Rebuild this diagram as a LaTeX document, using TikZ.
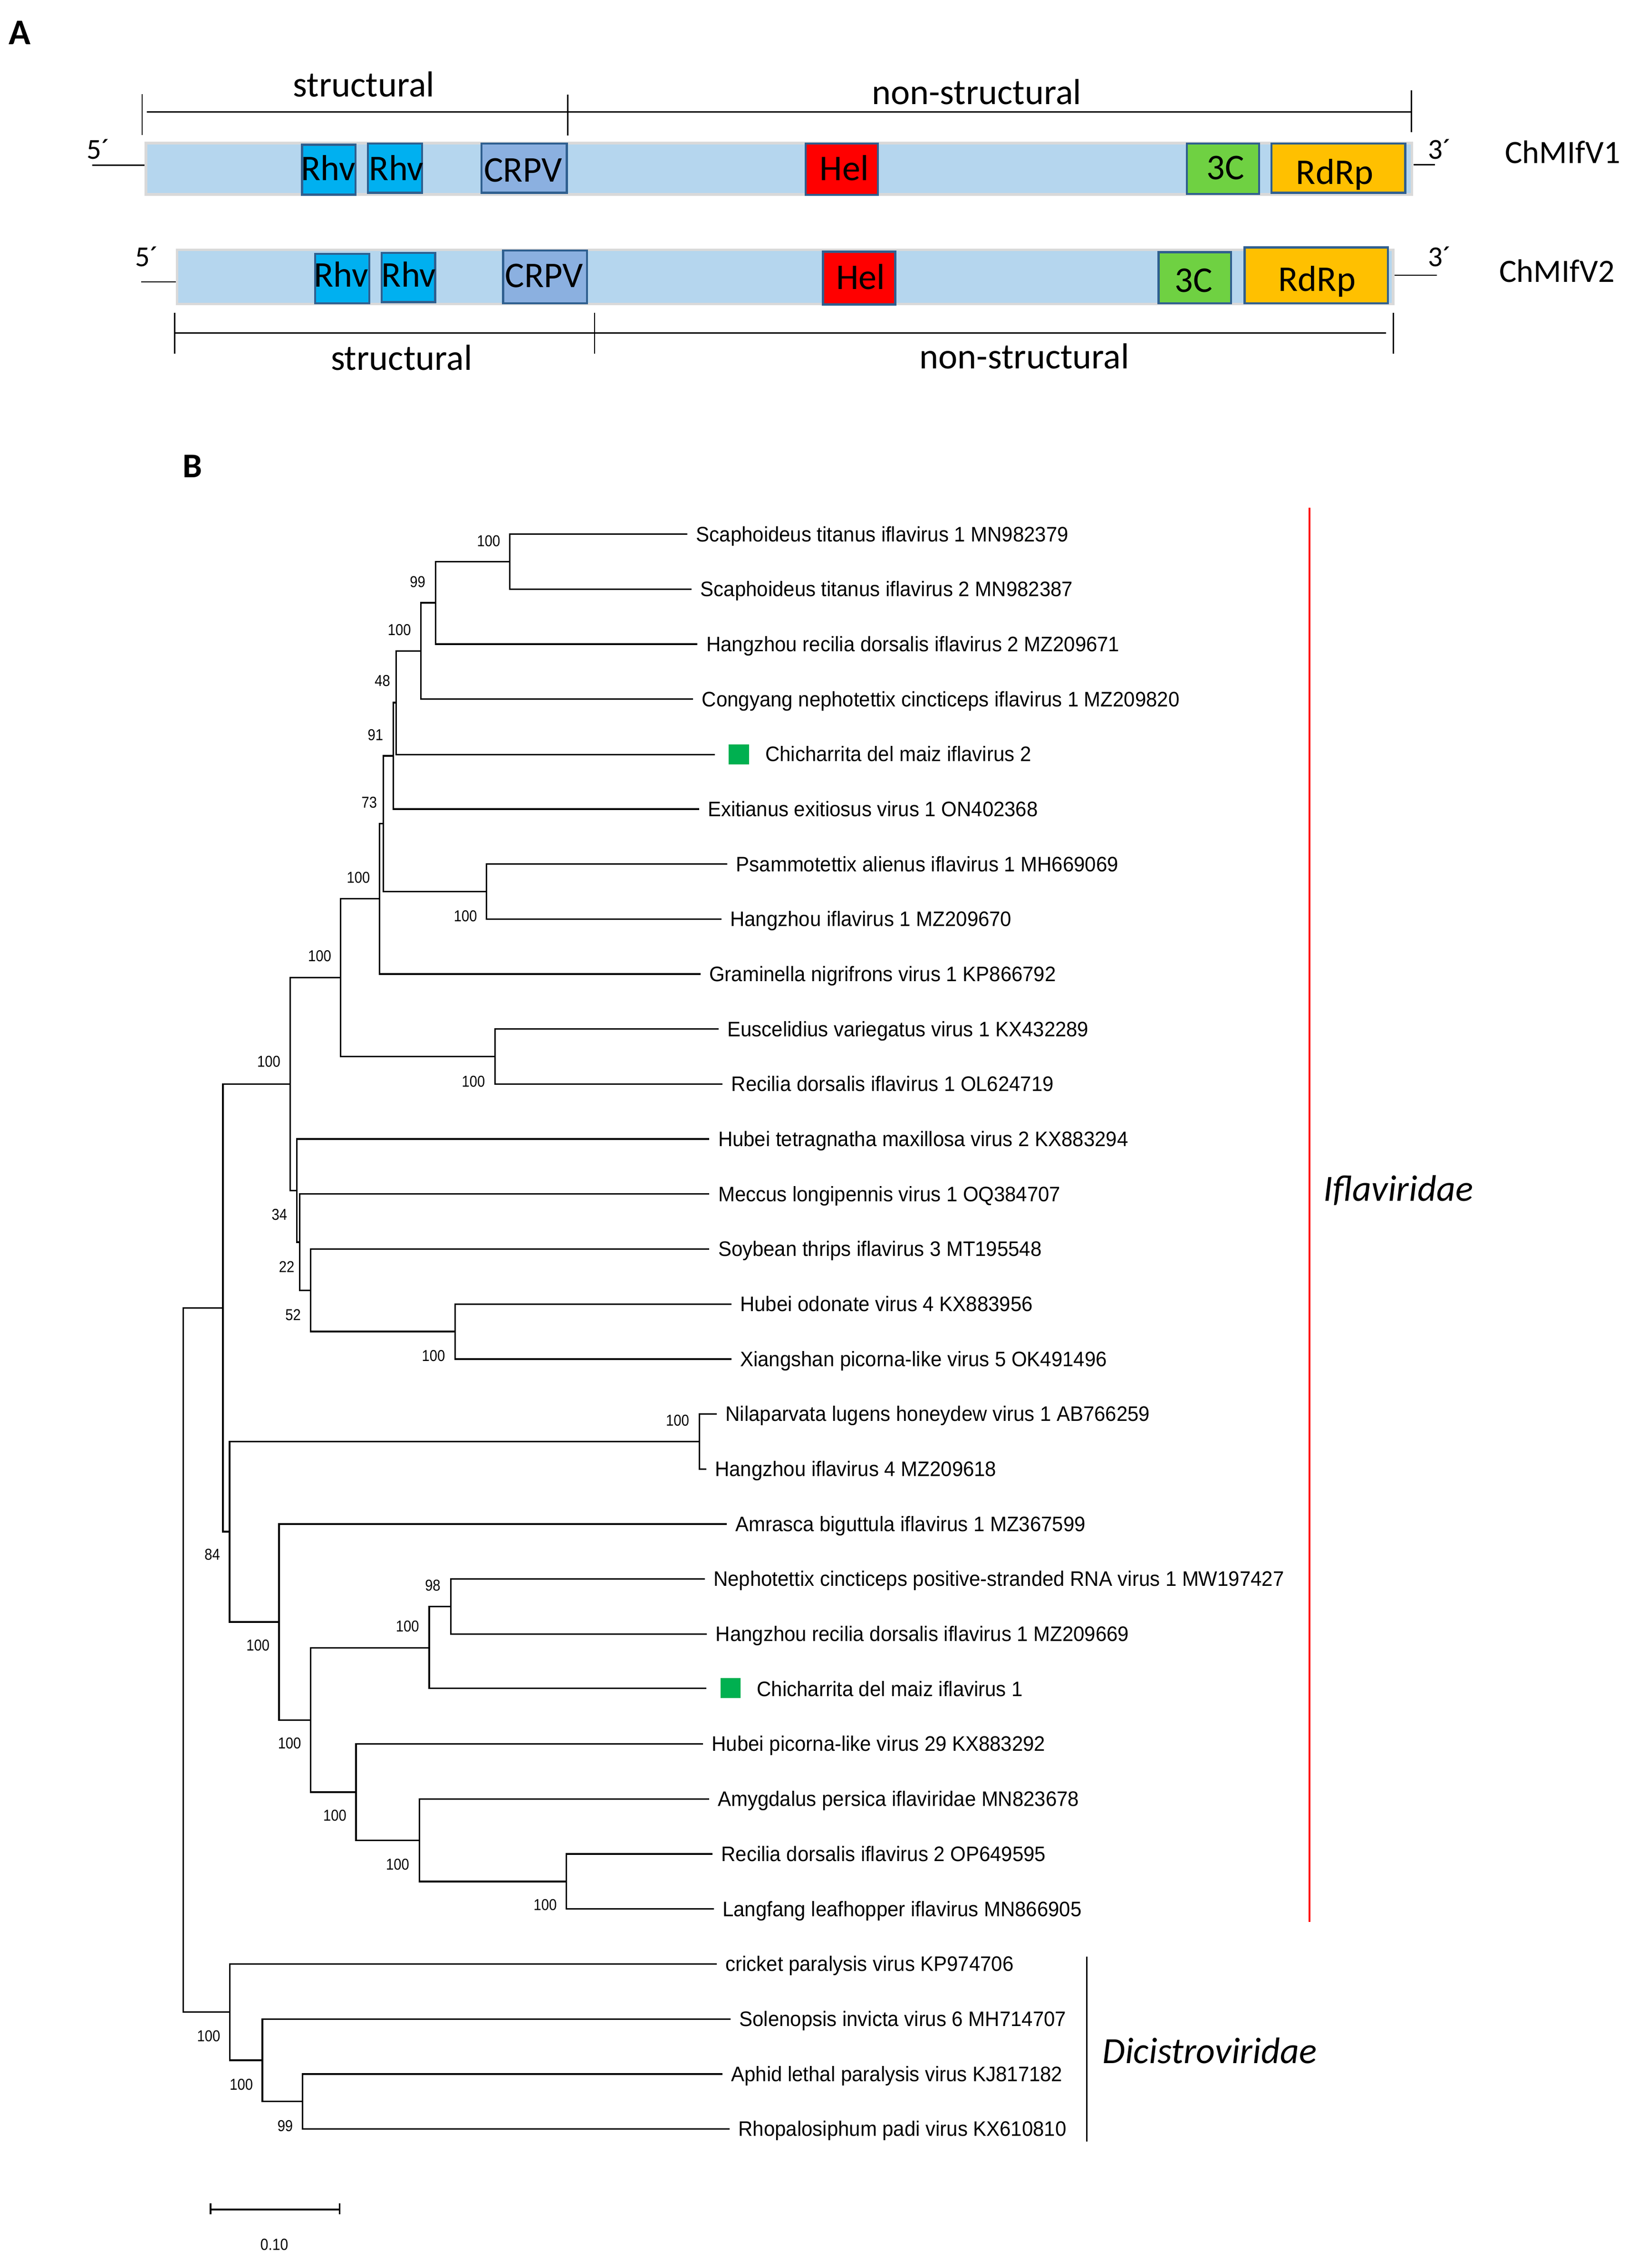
\documentclass[tikz,border=0pt]{standalone}
\usepackage{fontspec}
\setmainfont{Carlito}
\newfontfamily\tipfont[FakeStretch=0.95,Ligatures=NoCommon]{Liberation Sans}
\newfontfamily\bsfont[FakeStretch=0.88]{Liberation Sans}
\definecolor{barblue}{HTML}{B5D6EE}
\definecolor{bargray}{HTML}{D9D9D9}
\definecolor{domline}{HTML}{2F5F8F}
\definecolor{rhvc}{HTML}{00B0F0}
\definecolor{crpvc}{HTML}{8BB0E0}
\definecolor{helc}{HTML}{FF0000}
\definecolor{cthree}{HTML}{6FD142}
\definecolor{rdrpc}{HTML}{FFC000}
\definecolor{gsq}{HTML}{00B050}
\begin{document}
\begin{tikzpicture}[x=1pt,y=-1pt,
  barbox/.style={draw=bargray, fill=barblue, line width=1.8pt, inner sep=0pt, anchor=north west},
  dom/.style={draw=domline, line width=1.5pt, inner sep=0pt, anchor=north west},
  boxt/.style={inner sep=0pt, anchor=base, font=\fontsize{25}{30}\selectfont},
  primet/.style={inner sep=0pt, anchor=base, font=\fontsize{20}{24}\selectfont},
  thin/.style={line width=0.9pt},
  br/.style={line width=1.1pt},
  tiplab/.style={anchor=west, inner xsep=6pt, inner ysep=0pt, text height=10.4pt, text depth=0pt, font=\tipfont\fontsize{14.5}{16}\selectfont},
  bs/.style={inner sep=0pt, text height=7.7pt, text depth=0pt, anchor=center, font=\bsfont\fontsize{10.9}{12}\selectfont},
  sqr/.style={fill=gsq, inner sep=0pt, minimum size=14pt, anchor=west}
]
\fill[white] (0,0) rectangle (1139,1588);
\useasboundingbox (0,0) rectangle (1139,1588);
\begin{scope}[scale=1.0132, transform shape]
% ---------------- Panel A ----------------
\node[inner sep=0pt, anchor=base, font=\bfseries\fontsize{25}{30}\selectfont] (labA) at (13.6,30.6) {A};

% top bracket
\draw[thin] (101.6,77.3) -- (975.5,77.3);
\draw[thin] (98.2,65) -- (98.2,93.4);
\draw[thin] (392.5,65.4) -- (392.5,93.7);
\draw[thin] (975.5,62.5) -- (975.5,91.2);
\node[boxt] (st1) at (251.5,67) {structural};
\node[boxt] (ns1) at (675,72.2) {non-structural};

% genome 1
\node[barbox, minimum width=875pt, minimum height=35.5pt] (bar1) at (100,98) {};
\node[dom, fill=rhvc, minimum width=37pt, minimum height=34.5pt] (b1a) at (208,99.3) {};
\node[dom, fill=rhvc, minimum width=37.5pt, minimum height=34pt] (b1b) at (253.5,98.5) {};
\node[dom, fill=crpvc, minimum width=59pt, minimum height=34pt] (b1c) at (332,98.5) {};
\node[dom, fill=helc, minimum width=50pt, minimum height=35.5pt] (b1d) at (556,98.5) {};
\node[dom, fill=cthree, minimum width=50pt, minimum height=34.8pt] (b1e) at (819.5,98.5) {};
\node[dom, fill=rdrpc, minimum width=92.5pt, minimum height=34pt] (b1f) at (878,98.5) {};
\node[boxt] (x1a) at (226.8,124.8) {Rhv};
\node[boxt] (x1b) at (274,124.8) {Rhv};
\node[boxt] (x1c) at (361.5,125.7) {CRPV};
\node[boxt] (x1d) at (583.5,124.8) {Hel};
\node[boxt] (x1e) at (847,124) {3C};
\node[boxt] (x1f) at (922.5,127.4) {RdRp};
\coordinate (e5a) at (63.7,114.1);
\draw[thin] (e5a) -- (e5a -| bar1.west);
\coordinate (e3a) at (991.6,113.8);
\draw[thin] (e3a -| bar1.east) -- (e3a);
\node[primet] (p5a) at (68,110) {5´};
\node[primet] (p3a) at (995,110) {3´};
\node[inner sep=0pt, anchor=base, font=\fontsize{22.5}{27}\selectfont] (v1) at (1080,113) {ChMIfV1};

% genome 2
\node[barbox, minimum width=840.5pt, minimum height=37.4pt] (bar2) at (121.5,171.8) {};
\node[dom, fill=rhvc, minimum width=37.5pt, minimum height=34.3pt] (b2a) at (217,174.6) {};
\node[dom, fill=rhvc, minimum width=37pt, minimum height=34pt] (b2b) at (263,174) {};
\node[dom, fill=crpvc, minimum width=58pt, minimum height=36.5pt] (b2c) at (347,172.4) {};
\node[dom, fill=helc, minimum width=50pt, minimum height=36.5pt] (b2d) at (568,173.2) {};
\node[dom, fill=cthree, minimum width=50pt, minimum height=35.4pt] (b2e) at (800,173.5) {};
\node[dom, fill=rdrpc, minimum width=99pt, minimum height=38.6pt] (b2f) at (859.5,170.3) {};
\node[boxt] (x2a) at (235.7,198.3) {Rhv};
\node[boxt] (x2b) at (282.5,198.3) {Rhv};
\node[boxt] (x2c) at (376,198.7) {CRPV};
\node[boxt] (x2d) at (594.9,200) {Hel};
\node[boxt] (x2e) at (825,201.7) {3C};
\node[boxt] (x2f) at (910.2,201.2) {RdRp};
\coordinate (e5b) at (97.4,194.8);
\draw[thin] (e5b) -- (e5b -| bar2.west);
\coordinate (e3b) at (993,190.2);
\draw[thin] (e3b -| bar2.east) -- (e3b);
\node[primet] (p5b) at (101.5,184.2) {5´};
\node[primet] (p3b) at (995,184) {3´};
\node[inner sep=0pt, anchor=base, font=\fontsize{22.5}{27}\selectfont] (v2) at (1076,195) {ChMIfV2};

% bottom bracket
\draw[thin] (120.7,230) -- (958,230);
\draw[thin] (120.7,216) -- (120.7,244.5);
\draw[thin] (411,216) -- (411,244.5);
\draw[thin] (963,216) -- (963,244.5);
\node[boxt] (st2) at (277.5,255.6) {structural};
\node[boxt] (ns2) at (708,254.7) {non-structural};

% ---------------- Panel B ----------------
\node[inner sep=0pt, anchor=base, font=\bfseries\fontsize{24}{29}\selectfont] (labB) at (133,330) {B};

% tips
\node[tiplab] (t0) at (475,369) {Scaphoideus titanus iflavirus 1 MN982379};
\node[tiplab] (t1) at (478,407) {Scaphoideus titanus iflavirus 2 MN982387};
\node[tiplab] (t2) at (482,445) {Hangzhou recilia dorsalis iflavirus 2 MZ209671};
\node[tiplab] (t3) at (479,483) {Congyang nephotettix cincticeps iflavirus 1 MZ209820};
\node[sqr] (sq4) at (503.5,521.3) {};
\node[tiplab, inner xsep=0pt] (t4) at (528.8,521) {Chicharrita del maiz iflavirus 2};
\node[tiplab] (t5) at (483,559) {Exitianus exitiosus virus 1 ON402368};
\node[tiplab] (t6) at (502.6,597) {Psammotettix alienus iflavirus 1 MH669069};
\node[tiplab] (t7) at (498.5,635) {Hangzhou iflavirus 1 MZ209670};
\node[tiplab] (t8) at (484,673) {Graminella nigrifrons virus 1 KP866792};
\node[tiplab] (t9) at (496.6,711) {Euscelidius variegatus virus 1 KX432289};
\node[tiplab] (t10) at (499.3,749) {Recilia dorsalis iflavirus 1 OL624719};
\node[tiplab] (t11) at (490.2,787) {Hubei tetragnatha maxillosa virus 2 KX883294};
\node[tiplab] (t12) at (490.2,825) {Meccus longipennis virus 1 OQ384707};
\node[tiplab] (t13) at (490.2,863) {Soybean thrips iflavirus 3 MT195548};
\node[tiplab] (t14) at (505.4,901) {Hubei odonate virus 4 KX883956};
\node[tiplab] (t15) at (505.4,939) {Xiangshan picorna-like virus 5 OK491496};
\node[tiplab] (t16) at (495.3,977) {Nilaparvata lugens honeydew virus 1 AB766259};
\node[tiplab] (t17) at (488,1015) {Hangzhou iflavirus 4 MZ209618};
\node[tiplab] (t18) at (502.1,1053) {Amrasca biguttula iflavirus 1 MZ367599};
\node[tiplab] (t19) at (487,1091) {Nephotettix cincticeps positive-stranded RNA virus 1 MW197427};
\node[tiplab] (t20) at (488.5,1129) {Hangzhou recilia dorsalis iflavirus 1 MZ209669};
\node[sqr] (sq21) at (497.7,1166.5) {};
\node[tiplab, inner xsep=0pt] (t21) at (523,1167) {Chicharrita del maiz iflavirus 1};
\node[tiplab] (t22) at (485.8,1205) {Hubei picorna-like virus 29 KX883292};
\node[tiplab] (t23) at (490,1243) {Amygdalus persica iflaviridae MN823678};
\node[tiplab] (t24) at (492.3,1281) {Recilia dorsalis iflavirus 2 OP649595};
\node[tiplab] (t25) at (493.2,1319) {Langfang leafhopper iflavirus MN866905};
\node[tiplab] (t26) at (495.3,1357) {cricket paralysis virus KP974706};
\node[tiplab] (t27) at (504.8,1395) {Solenopsis invicta virus 6 MH714707};
\node[tiplab] (t28) at (499.2,1433) {Aphid lethal paralysis virus KJ817182};
\node[tiplab] (t29) at (504.2,1471) {Rhopalosiphum padi virus KX610810};

% internal nodes
\coordinate (nA) at (352.2,388);
\coordinate (nB) at (301.1,416.5);
\coordinate (nC) at (290.8,449.75);
\coordinate (nD) at (273.8,485.4);
\coordinate (nE) at (271.8,522.2);
\coordinate (nPs) at (336.2,616);
\coordinate (nF) at (264.8,569.1);
\coordinate (nG) at (262.3,621);
\coordinate (nEu) at (342,730);
\coordinate (nH) at (235.4,675.5);
\coordinate (nN) at (314.6,920);
\coordinate (nM) at (214.6,891.5);
\coordinate (nL) at (207.1,858.25);
\coordinate (nK) at (205.1,822.6);
\coordinate (nI) at (200.5,749.1);
\coordinate (nJ) at (154,903.7);
\coordinate (nNi) at (483.4,996);
\coordinate (nT) at (311.6,1110);
\coordinate (nR) at (296.6,1138.5);
\coordinate (nV) at (391.4,1300);
\coordinate (nU) at (289.8,1271.5);
\coordinate (nS) at (246,1238.25);
\coordinate (nQ) at (214.6,1188.4);
\coordinate (nP) at (192.8,1120.7);
\coordinate (nO) at (158.6,1058.3);
\coordinate (nY) at (209.1,1452);
\coordinate (nX) at (181.3,1423.5);
\coordinate (nW) at (158.7,1390.25);
\coordinate (nRoot) at (126.7,1147);

% branches
\draw[br] (nA) |- (t0.west);
\draw[br] (nA) |- (t1.west);
\draw[br] (nB) |- (nA);
\draw[br] (nB) |- (t2.west);
\draw[br] (nC) |- (nB);
\draw[br] (nC) |- (t3.west);
\draw[br] (nD) |- (nC);
\draw[br, shorten >=9.5pt] (nD) |- (sq4.west);
\draw[br] (nE) |- (nD);
\draw[br] (nE) |- (t5.west);
\draw[br] (nPs) |- (t6.west);
\draw[br] (nPs) |- (t7.west);
\draw[br] (nF) |- (nE);
\draw[br] (nF) |- (nPs);
\draw[br] (nG) |- (nF);
\draw[br] (nG) |- (t8.west);
\draw[br] (nEu) |- (t9.west);
\draw[br] (nEu) |- (t10.west);
\draw[br] (nH) |- (nG);
\draw[br] (nH) |- (nEu);
\draw[br] (nN) |- (t14.west);
\draw[br] (nN) |- (t15.west);
\draw[br] (nM) |- (t13.west);
\draw[br] (nM) |- (nN);
\draw[br] (nL) |- (t12.west);
\draw[br] (nL) |- (nM);
\draw[br] (nK) |- (t11.west);
\draw[br] (nK) |- (nL);
\draw[br] (nI) |- (nH);
\draw[br] (nI) |- (nK);
\draw[br] (nNi) |- (t16.west);
\draw[br] (nNi) |- (t17.west);
\draw[br] (nT) |- (t19.west);
\draw[br] (nT) |- (t20.west);
\draw[br] (nR) |- (nT);
\draw[br, shorten >=9.8pt] (nR) |- (sq21.west);
\draw[br] (nV) |- (t24.west);
\draw[br] (nV) |- (t25.west);
\draw[br] (nU) |- (t23.west);
\draw[br] (nU) |- (nV);
\draw[br] (nS) |- (t22.west);
\draw[br] (nS) |- (nU);
\draw[br] (nQ) |- (nR);
\draw[br] (nQ) |- (nS);
\draw[br] (nP) |- (t18.west);
\draw[br] (nP) |- (nQ);
\draw[br] (nO) |- (nNi);
\draw[br] (nO) |- (nP);
\draw[br] (nJ) |- (nI);
\draw[br] (nJ) |- (nO);
\draw[br] (nY) |- (t28.west);
\draw[br] (nY) |- (t29.west);
\draw[br] (nX) |- (t27.west);
\draw[br] (nX) |- (nY);
\draw[br] (nW) |- (t26.west);
\draw[br] (nW) |- (nX);
\draw[br] (nRoot) |- (nJ);
\draw[br] (nRoot) |- (nW);

% bootstrap values
\node[bs] (bA) at (337.7,373.6) {100};
\node[bs] (bB) at (288.6,402.1) {99};
\node[bs] (bC) at (276,435.3) {100};
\node[bs] (bD) at (264.3,470.3) {48};
\node[bs] (bE) at (259.5,507.8) {91};
\node[bs] (bF) at (255.2,554.3) {73};
\node[bs] (bG) at (247.7,606.3) {100};
\node[bs] (bPs) at (321.7,632.8) {100};
\node[bs] (bH) at (220.9,660.4) {100};
\node[bs] (bI) at (185.8,733.5) {100};
\node[bs] (bEu) at (327.2,747.3) {100};
\node[bs] (bK) at (193.1,839.1) {34};
\node[bs] (bL) at (198.1,875.4) {22};
\node[bs] (bM) at (202.6,908.5) {52};
\node[bs] (bN) at (299.6,936.7) {100};
\node[bs] (bNi) at (468.3,981.5) {100};
\node[bs] (bO) at (146.7,1074.1) {84};
\node[bs] (bT) at (299.1,1095.5) {98};
\node[bs] (bR) at (281.6,1123.8) {100};
\node[bs] (bP) at (178.3,1137) {100};
\node[bs] (bQ) at (200.1,1204.4) {100};
\node[bs] (bS) at (231.4,1254.6) {100};
\node[bs] (bU) at (274.8,1288.2) {100};
\node[bs] (bV) at (376.8,1316.4) {100};
\node[bs] (bW) at (144.2,1407) {100};
\node[bs] (bX) at (166.8,1440.3) {100};
\node[bs] (bY) at (197.1,1468.9) {99};

% family brackets
\draw[line width=1.3pt, red] (905,351) -- (905,1328);
\node[inner sep=0pt, anchor=base, font=\itshape\fontsize{25.5}{30}\selectfont] (fam1) at (966.5,830) {Iflaviridae};
\draw[line width=1pt] (751,1352) -- (751,1480);
\node[inner sep=0pt, anchor=base, font=\itshape\fontsize{25.5}{30}\selectfont] (fam2) at (836,1426) {Dicistroviridae};

% scale bar
\coordinate (sb1) at (145.5,1526.6);
\coordinate (sb2) at (234.7,1526.6);
\draw[br] (sb1) -- (sb2);
\draw[br] ([yshift=4.4pt]sb1) -- ([yshift=-3.4pt]sb1);
\draw[br] ([yshift=4.4pt]sb2) -- ([yshift=-3.4pt]sb2);
\node[bs, font=\bsfont\fontsize{11.2}{13}\selectfont] (sbl) at (189.6,1551) {0.10};
\end{scope}
\end{tikzpicture}
\end{document}
